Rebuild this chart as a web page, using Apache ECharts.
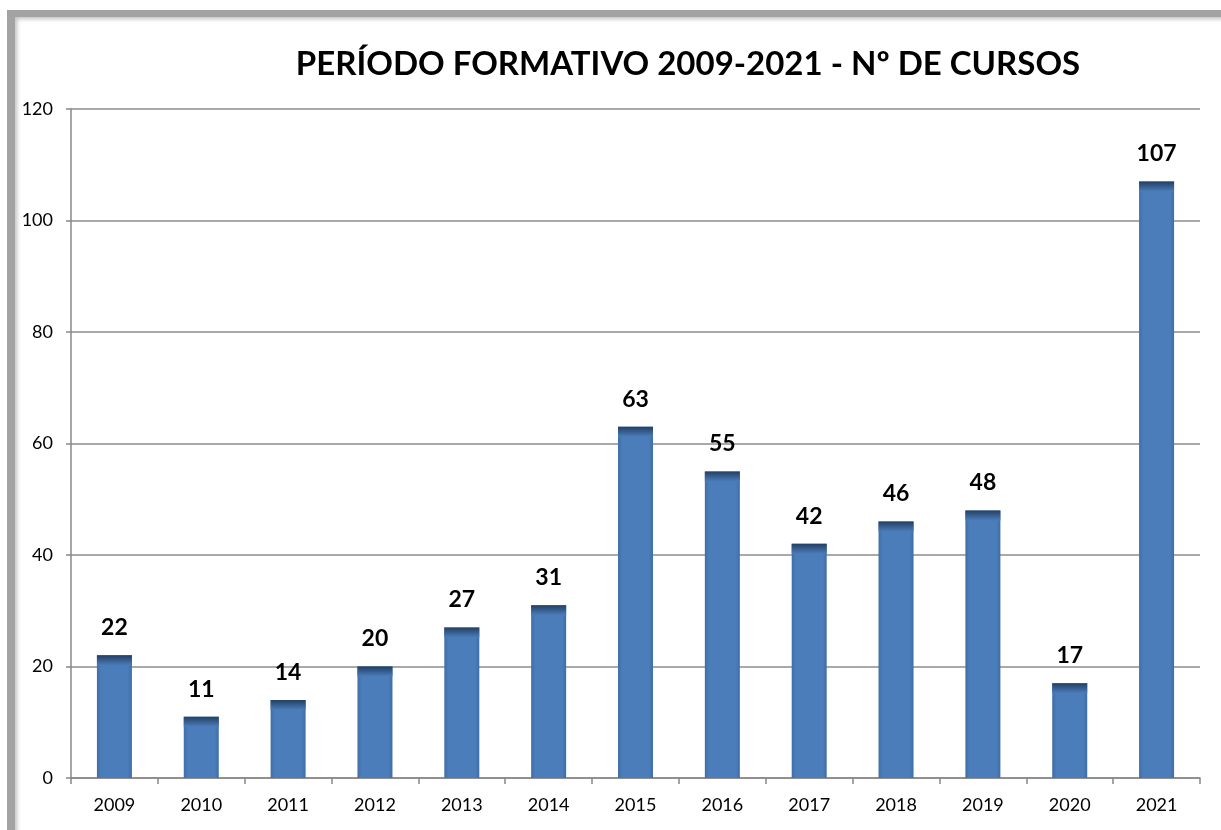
<!DOCTYPE html>
<html>
<head>
<meta charset="utf-8">
<script src="https://cdn.jsdelivr.net/npm/echarts@6/dist/echarts.min.js"></script>
<style>
  html, body { margin: 0; padding: 0; background: #fff; overflow: hidden; }
  .frame {
    position: absolute; left: 7px; top: 10px; width: 1300px; height: 900px;
    border-top: 7px solid #a3a3a3; border-left: 8px solid #a3a3a3;
    box-shadow: inset 2px 2px 4px rgba(0,0,0,0.25);
    background: #fff;
  }
  #chart { position: absolute; left: 0; top: 0; width: 1221px; height: 830px; }
</style>
</head>
<body>
<div class="frame"></div>
<div id="chart"></div>
<script>
// datos del gráfico
const years = ['2009', '2010', '2011', '2012', '2013', '2014', '2015', '2016', '2017', '2018', '2019', '2020', '2021'];
const cursos = [22, 11, 14, 20, 27, 31, 63, 55, 42, 46, 48, 17, 107];
const yTicks = [0, 20, 40, 60, 80, 100, 120];

const myChart = echarts.init(document.getElementById('chart'));

const fontFam = 'Lato, "Open Sans", sans-serif';

const option = {
  backgroundColor: 'transparent',
  animation: false,
  title: {
    text: 'PERÍODO FORMATIVO 2009-2021 - Nº DE CURSOS',
    left: 683,
    top: 43,
    textAlign: 'center',
    textStyle: { fontFamily: fontFam, fontWeight: 'bold', fontSize: 33, color: '#000' }
  },
  grid: { left: 71, right: 21, top: 109, bottom: 52, containLabel: false },
  xAxis: {
    type: 'category',
    data: years,
    axisLine: { lineStyle: { color: '#888', width: 1.5 } },
    axisTick: { show: true, length: 6, lineStyle: { color: '#888', width: 1.5 } },
    axisLabel: { color: '#000', fontFamily: fontFam, fontSize: 18, margin: 18 }
  },
  yAxis: {
    type: 'value',
    min: yTicks[0],
    max: yTicks[yTicks.length - 1],
    interval: 20,
    axisLine: { show: true, lineStyle: { color: '#888', width: 1.5 } },
    axisTick: { show: true, length: 5, lineStyle: { color: '#888', width: 1.5 } },
    axisLabel: { color: '#000', fontFamily: fontFam, fontSize: 18, margin: 18 },
    splitLine: { lineStyle: { color: '#8c8c8c', width: 1.5 } }
  },
  series: [
    {
      type: 'bar',
      data: cursos,
      barWidth: 35,
      z: 2,
      itemStyle: {
        color: new echarts.graphic.LinearGradient(0, 0, 1, 0, [
          { offset: 0, color: '#3f6ea8' },
          { offset: 0.12, color: '#4b7dba' },
          { offset: 0.88, color: '#4b7dba' },
          { offset: 1, color: '#3f6ea8' }
        ])
      },
      label: {
        show: true,
        position: 'top',
        distance: 16,
        color: '#000',
        fontFamily: fontFam,
        fontWeight: 'bold',
        fontSize: 23
      }
    },
    {
      // tapa oscura superior de cada barra
      type: 'pictorialBar',
      data: cursos,
      symbol: 'rect',
      symbolSize: [35, 10],
      symbolPosition: 'end',
      barGap: '-100%',
      z: 3,
      silent: true,
      itemStyle: {
        color: new echarts.graphic.LinearGradient(0, 0, 0, 1, [
          { offset: 0, color: '#223f63' },
          { offset: 1, color: '#4b7dba' }
        ])
      }
    }
  ]
};

option && myChart.setOption(option);
</script>
</body>
</html>
